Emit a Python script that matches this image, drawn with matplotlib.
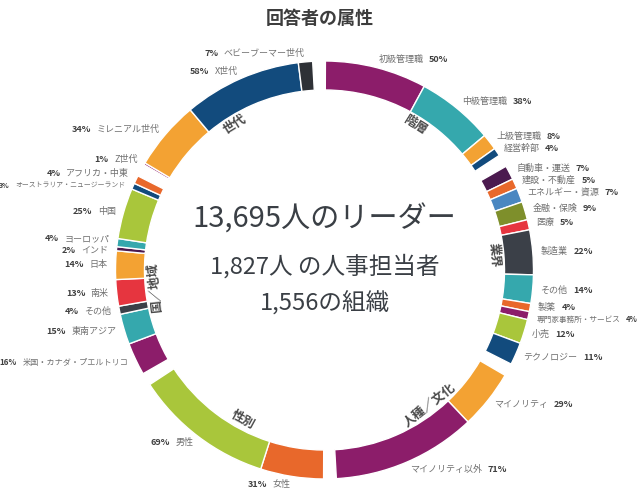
import numpy as np
import matplotlib
matplotlib.use('Agg')
import matplotlib.pyplot as plt
from matplotlib.patches import Wedge
from matplotlib.offsetbox import TextArea, HPacker, AnnotationBbox

plt.rcParams['font.family'] = ['Noto Sans CJK JP', 'DejaVu Sans']

# colours used in the ring
purple = '#8c1d6a'
teal = '#35a8ad'
amber = '#f3a233'
navy = '#124b7d'
plum = '#4b1a4f'
orange = '#e8682b'
steel = '#4a87c1'
olive = '#7e8f2b'
red = '#e6353f'
charcoal = '#3b4048'
lime = '#a9c63b'
black = '#2e3136'

# data - one list per group, clockwise from the top
hier_labels = ['初級管理職', '中級管理職', '上級管理職', '経営幹部']
hier_vals = [50, 38, 8, 4]
hier_cols = [purple, teal, amber, navy]

ind_labels = ['自動車・運送', '建設・不動産', 'エネルギー・資源', '金融・保険', '医療',
              '製造業', 'その他', '製薬', '専門家事務所・サービス', '小売', 'テクノロジー']
ind_vals = [7, 5, 7, 9, 5, 22, 14, 4, 4, 12, 11]
ind_cols = [plum, orange, steel, olive, red, charcoal, teal, orange, purple, lime, navy]

race_labels = ['マイノリティ', 'マイノリティ以外']
race_vals = [29, 71]
race_cols = [amber, purple]

sex_labels = ['女性', '男性']
sex_vals = [31, 69]
sex_cols = [orange, lime]

reg_labels = ['米国・カナダ・プエルトリコ', '東南アジア', 'その他', '南米', '日本', 'インド',
              'ヨーロッパ', '中国', 'オーストラリア・ニュージーランド', 'アフリカ・中東']
reg_vals = [16, 15, 4, 13, 14, 2, 4, 25, 3, 4]
reg_cols = [purple, teal, charcoal, red, amber, plum, teal, lime, navy, orange]

gen_labels = ['Z世代', 'ミレニアル世代', 'X世代', 'ベビーブーマー世代']
gen_vals = [1, 34, 58, 7]
gen_cols = [purple, amber, navy, black]

groups = [
    ('階層', hier_labels, hier_vals, hier_cols),
    ('業界', ind_labels, ind_vals, ind_cols),
    ('人種／文化', race_labels, race_vals, race_cols),
    ('性別', sex_labels, sex_vals, sex_cols),
    ('国／地域', reg_labels, reg_vals, reg_cols),
    ('世代', gen_labels, gen_vals, gen_cols),
]
group_nudge = [-3.5, 3.5, 6.5, 0, 4.5, 0]

fig = plt.figure(figsize=(6.38, 4.9), dpi=100)
ax = fig.add_axes([0, 0, 1, 1])
ax.set_xlim(0, 638)
ax.set_ylim(0, 490)
ax.axis('off')

cx, cy = 324.5, 220
R, W = 209, 29
span, gap = 60, 3.5
top = 91.5

name_col = '#707070'
pct_col = '#404040'
label_fs = 6.5

outer = []  # label info gathered while drawing the ring
for i, (gname, labels, vals, cols) in enumerate(groups):
    a = top - span * i - gap / 2
    usable = span - gap
    total = sum(vals)
    for lab, v, col in zip(labels, vals, cols):
        d = usable * v / total
        ax.add_patch(Wedge((cx, cy), R, a - d, a, width=W,
                           facecolor=col, edgecolor='white', linewidth=1))
        mid = np.radians(a - d / 2)
        outer.append(dict(name=lab, pct=f'{v}%',
                          x=cx + (R + 8) * np.cos(mid),
                          y=cy + (R + 8) * np.sin(mid),
                          right=np.cos(mid) >= 0))
        a -= d

    # group name just inside the ring
    gm = top - span * i - span / 2 + group_nudge[i]
    rot = gm + 90 if -150 < gm < -30 else gm - 90
    gr = np.radians(gm)
    ax.text(cx + 171 * np.cos(gr), cy + 171 * np.sin(gr), gname,
            rotation=rot, rotation_mode='anchor', ha='center', va='center',
            fontsize=9, fontweight='bold', color='#4a4a4a')

# spread crowded labels apart vertically on each side
min_sep = 12
for side in (True, False):
    items = sorted([o for o in outer if o['right'] == side], key=lambda o: -o['y'])
    for _ in range(200):
        for k in range(len(items) - 1):
            diff = items[k]['y'] - items[k + 1]['y']
            if diff < min_sep:
                push = (min_sep - diff) / 2
                items[k]['y'] += push
                items[k + 1]['y'] -= push


def make_label(o, fs):
    t_name = TextArea(o['name'], textprops=dict(fontsize=fs, color=name_col))
    t_pct = TextArea(o['pct'], textprops=dict(fontsize=fs, color=pct_col, fontweight='bold'))
    if o['right']:
        box = HPacker(children=[t_name, t_pct], align='baseline', pad=0, sep=4)
        align = (0, 0.5)
    else:
        box = HPacker(children=[t_pct, t_name], align='baseline', pad=0, sep=4)
        align = (1, 0.5)
    ab = AnnotationBbox(box, (o['x'], o['y']), xycoords='data', box_alignment=align,
                        frameon=False, pad=0, annotation_clip=False)
    ax.add_artist(ab)
    return ab


renderer = fig.canvas.get_renderer()
for o in outer:
    ab = make_label(o, label_fs)
    bb = ab.get_window_extent(renderer)
    # shrink the long katakana labels so they stay inside the picture
    if o['right'] and bb.x1 > 637:
        fs = label_fs * (637 - bb.x0) / bb.width
        ab.remove()
        make_label(o, fs)
    elif not o['right'] and bb.x0 < 1:
        fs = label_fs * (bb.x1 - 1) / bb.width
        ab.remove()
        make_label(o, fs)

# title and centre text
ax.text(320, 471, '回答者の属性', ha='center', va='center',
        fontsize=13, fontweight='bold', color='#3d3d3d')
ax.text(cx, 270, '13,695人のリーダー', ha='center', va='center', fontsize=21, color='#3a3f45')
ax.text(cx, 224, '1,827人 の人事担当者', ha='center', va='center', fontsize=17, color='#3a3f45')
ax.text(cx, 187, '1,556の組織', ha='center', va='center', fontsize=17, color='#3a3f45')

fig.savefig('out.png', dpi=100)
